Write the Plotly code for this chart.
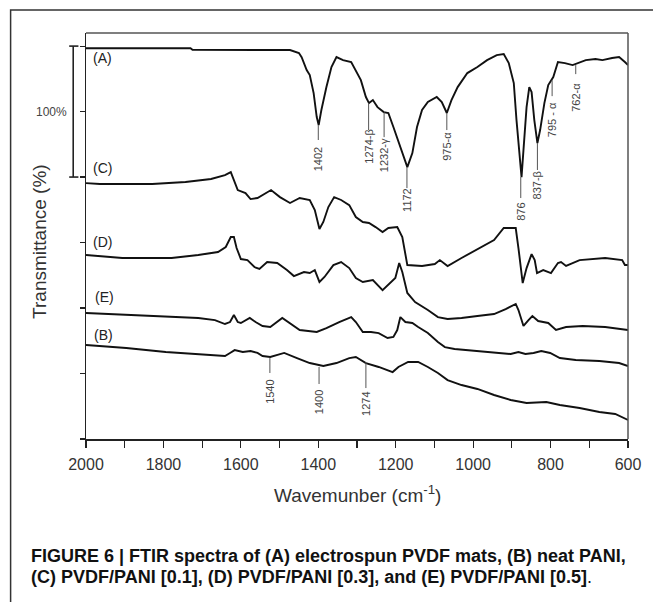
import plotly.graph_objects as go

# ---------------- data (wavenumber in cm^-1, transmittance in %, offset traces) -------------
A_wn = [2000, 1730, 1725, 1473, 1450, 1443, 1430, 1422, 1412, 1404, 1399, 1392, 1379, 1366, 1353,
        1336, 1315, 1303, 1290, 1277, 1269, 1259, 1247, 1231, 1219, 1206, 1188, 1170, 1157, 1145,
        1132, 1117, 1094, 1081, 1068, 1056, 1040, 1015, 989, 964, 939, 921, 908, 895, 888, 880,
        875, 870, 862, 855, 849, 842, 834, 827, 816, 806, 793, 781, 763, 743, 730, 709, 684, 666,
        641, 623, 608, 600]
A_T = [298.3, 298.3, 297.2, 297.0, 294.7, 291.6, 281.7, 277.9, 264.1, 245.8, 239.7, 251.2, 268.7,
       284.0, 291.6, 289.3, 287.8, 281.7, 274.0, 261.1, 256.5, 258.8, 253.4, 249.6, 248.9, 238.2,
       222.9, 207.6, 218.3, 238.2, 251.2, 257.3, 261.1, 257.3, 248.9, 258.8, 268.7, 279.4, 284.0,
       289.3, 293.1, 293.9, 287.0, 271.8, 243.5, 215.3, 200.0, 220.6, 253.4, 268.7, 264.9, 243.5,
       226.0, 235.9, 256.5, 270.3, 276.4, 287.8, 287.0, 285.5, 287.0, 289.3, 290.1, 289.3, 290.9,
       291.6, 287.8, 285.5]

C_wn = [2000, 1964, 1829, 1743, 1677, 1641, 1626, 1618, 1608, 1588, 1575, 1557, 1522, 1499, 1473,
        1448, 1422, 1409, 1397, 1387, 1374, 1359, 1341, 1320, 1303, 1285, 1269, 1252, 1234, 1219,
        1196, 1183, 1170, 1132, 1099, 1086, 1066, 1030, 989, 946, 921, 890, 883, 872, 862, 849,
        841, 835, 819, 799, 781, 773, 760, 725, 659, 615, 608, 600]
C_T = [195.4, 194.7, 194.7, 196.2, 198.5, 201.5, 203.8, 197.7, 190.1, 187.8, 183.2, 184.0, 190.1,
       184.7, 180.2, 184.0, 182.5, 174.8, 160.3, 165.7, 177.1, 184.7, 182.5, 178.6, 169.5, 165.7,
       164.9, 161.8, 158.0, 161.1, 161.8, 154.2, 132.8, 132.1, 133.6, 136.6, 132.1, 138.2, 145.0,
       151.9, 161.1, 161.1, 145.8, 119.1, 130.5, 141.2, 136.6, 126.7, 129.0, 126.7, 134.4, 135.1,
       132.1, 136.6, 138.2, 136.6, 132.8, 132.8]

D_wn = [2000, 1906, 1779, 1710, 1659, 1639, 1626, 1618, 1611, 1600, 1583, 1565, 1552, 1532, 1506,
        1481, 1463, 1437, 1422, 1409, 1397, 1384, 1361, 1341, 1320, 1303, 1285, 1259, 1234, 1219,
        1201, 1191, 1183, 1170, 1150, 1117, 1091, 1066, 1030, 989, 946, 916, 890, 883, 870, 857,
        847, 832, 806, 786, 760, 717, 659, 600]
D_T = [140.5, 138.2, 138.2, 140.5, 142.8, 146.6, 154.2, 154.2, 145.8, 137.4, 136.6, 131.3, 129.8,
       135.1, 134.4, 129.0, 124.4, 127.5, 126.7, 129.0, 119.9, 123.7, 132.8, 135.1, 130.5, 122.9,
       119.9, 121.4, 113.7, 117.6, 122.9, 134.4, 127.5, 111.5, 104.6, 98.5, 93.1, 91.6, 92.4, 93.9,
       95.4, 99.2, 103.1, 98.5, 86.3, 90.8, 93.9, 90.1, 88.6, 83.2, 85.5, 86.3, 85.5, 83.2]

E_wn = [2000, 1896, 1794, 1710, 1667, 1641, 1628, 1618, 1608, 1600, 1577, 1562, 1544, 1524, 1493,
        1473, 1448, 1404, 1379, 1346, 1315, 1303, 1285, 1264, 1244, 1221, 1206, 1196, 1188, 1175,
        1157, 1142, 1117, 1091, 1073, 1048, 997, 946, 903, 883, 865, 844, 824, 801, 776, 735, 674,
        623, 600]
E_T = [96.2, 94.7, 93.1, 92.4, 90.8, 87.8, 89.3, 94.7, 89.3, 88.6, 92.4, 89.3, 86.3, 85.5, 92.4,
       88.6, 83.2, 81.7, 84.7, 89.3, 93.1, 89.3, 81.7, 81.7, 80.9, 77.1, 77.9, 83.2, 93.1, 89.3,
       88.6, 85.5, 80.9, 74.0, 70.2, 68.7, 67.2, 65.7, 64.9, 66.4, 64.9, 65.7, 67.2, 65.7, 61.8,
       60.3, 59.5, 58.0, 55.7]

B_wn = [2000, 1896, 1794, 1710, 1641, 1628, 1616, 1595, 1575, 1557, 1544, 1524, 1488, 1455, 1422,
        1387, 1353, 1320, 1303, 1277, 1244, 1208, 1193, 1168, 1142, 1117, 1091, 1066, 1030, 989,
        946, 903, 862, 811, 776, 725, 674, 633, 600]
B_T = [71.8, 69.5, 66.4, 64.9, 63.4, 65.7, 67.9, 66.4, 67.2, 65.7, 63.4, 62.6, 65.7, 61.8, 58.0,
       55.7, 58.0, 61.8, 62.6, 58.0, 55.0, 51.1, 55.0, 58.8, 58.8, 55.0, 50.4, 45.0, 41.2, 38.2,
       33.6, 29.8, 27.5, 28.2, 26.0, 23.7, 20.6, 19.1, 14.5]

series_names = ["(A)", "(C)", "(D)", "(E)", "(B)"]
series_wn = [A_wn, C_wn, D_wn, E_wn, B_wn]
series_T = [A_T, C_T, D_T, E_T, B_T]

# curve tags: wavenumber / transmittance of each tag
tag_wn = [1958, 1958, 1957, 1952, 1955]
tag_T = [290.9, 206.9, 150.4, 108.4, 79.4]

# peak assignments
pk_text = ["1402", "1274-β", "1232-γ", "1172", "975-α", "876", "837-β", "795 - α", "762-α",
           "1540", "1400", "1274"]
pk_wn = [1400, 1270, 1230, 1171, 1068, 877, 834, 796, 735, 1525, 1398, 1277]
pk_top = [239.7, 256.5, 249.6, 207.6, 248.9, 200.0, 226.0, 274.0, 285.5, 61.8, 55.0, 58.8]
pk_bot = [228.3, 235.9, 230.5, 191.6, 235.9, 184.0, 205.4, 261.8, 278.6, 50.4, 42.0, 38.9]
pk_mid = [213.8, 222.9, 216.8, 182.5, 223.7, 173.3, 193.9, 243.5, 261.1, 35.9, 28.2, 26.7]

x_ticks = [2000, 1800, 1600, 1400, 1200, 1000, 800, 600]
y_ticks = [0, 50, 100, 150, 200, 250, 300]

FONT = "Liberation Sans, Arial, Helvetica, sans-serif"

fig = go.Figure()
for name, wn, T in zip(series_names, series_wn, series_T):
    fig.add_trace(go.Scatter(x=wn, y=T, mode="lines", name=name,
                             line=dict(color="#111111", width=1.9), showlegend=False,
                             hoverinfo="skip"))

shapes = []
annotations = []

# peak marker lines + labels
for t, w, y0, y1, ym in zip(pk_text, pk_wn, pk_top, pk_bot, pk_mid):
    shapes.append(dict(type="line", xref="x", yref="y", x0=w, x1=w, y0=y0, y1=y1,
                       line=dict(color="#555555", width=1)))
    annotations.append(dict(x=w, y=ym, xref="x", yref="y", text=t, showarrow=False,
                            textangle=-90, xanchor="center", yanchor="middle",
                            font=dict(family=FONT, size=11, color="#444444")))

# curve tags
for n, w, y in zip(series_names, tag_wn, tag_T):
    annotations.append(dict(x=w, y=y, xref="x", yref="y", text=n, showarrow=False,
                            xanchor="center", yanchor="middle",
                            font=dict(family=FONT, size=14, color="#222222")))

# scale bar (100 %)
sb_x = -0.0236
shapes.append(dict(type="line", xref="paper", yref="y", x0=sb_x, x1=sb_x, y0=200, y1=300,
                   line=dict(color="#222222", width=1.6)))
for yy in (200, 300):
    shapes.append(dict(type="line", xref="paper", yref="y", x0=-0.031, x1=-0.014, y0=yy, y1=yy,
                       line=dict(color="#222222", width=1.6)))
annotations.append(dict(x=-0.0636, y=250, xref="paper", yref="y", text="100%", showarrow=False,
                        xanchor="center", yanchor="middle",
                        font=dict(family=FONT, size=12, color="#444444")))

# top & right frame of plot box
shapes.append(dict(type="line", xref="paper", yref="paper", x0=0, x1=1, y0=1, y1=1,
                   line=dict(color="#555555", width=1.5)))
shapes.append(dict(type="line", xref="paper", yref="paper", x0=1, x1=1, y0=0, y1=1,
                   line=dict(color="#555555", width=1.5)))
# outer figure frame
shapes.append(dict(type="rect", xref="paper", yref="paper", x0=-0.1391, x1=1.06, y0=-0.43,
                   y1=1.0567, line=dict(color="#333333", width=1.5)))

# axis titles
annotations.append(dict(x=-0.0855, y=151, xref="paper", yref="y", text="Transmittance (%)",
                        showarrow=False, textangle=-90, xanchor="center", yanchor="middle",
                        font=dict(family=FONT, size=19, color="#333333")))
annotations.append(dict(x=0.5, y=-0.1355, xref="paper", yref="paper",
                        text="Wavemunber (cm<sup>-1</sup>)", showarrow=False,
                        xanchor="center", yanchor="middle",
                        font=dict(family=FONT, size=19, color="#333333")))

# caption
annotations.append(dict(x=-0.1055, y=-0.288, xref="paper", yref="paper",
                        text="<b>FIGURE 6 | FTIR spectra of (A) electrospun PVDF mats, (B) neat PANI,</b>",
                        showarrow=False, xanchor="left", yanchor="middle",
                        font=dict(family=FONT, size=18, color="#111111")))
annotations.append(dict(x=-0.1055, y=-0.340, xref="paper", yref="paper",
                        text="<b>(C) PVDF/PANI [0.1], (D) PVDF/PANI [0.3], and (E) PVDF/PANI [0.5]</b>.",
                        showarrow=False, xanchor="left", yanchor="middle",
                        font=dict(family=FONT, size=18, color="#111111")))

fig.update_layout(
    width=653, height=602,
    margin=dict(l=86, r=17, t=33, b=163, pad=0),
    paper_bgcolor="white", plot_bgcolor="white",
    shapes=shapes, annotations=annotations,
    xaxis=dict(range=[2000, 600], tickvals=x_ticks, ticks="outside",
               ticklen=7, tickwidth=1.2, tickcolor="#222222", showline=True,
               linecolor="#222222", linewidth=1.5, showgrid=False, zeroline=False,
               ticklabelstandoff=3,
               minor=dict(dtick=100, ticks="outside", ticklen=7, tickwidth=1.2,
                          tickcolor="#222222", showgrid=False),
               tickfont=dict(family=FONT, size=16, color="#333333")),
    yaxis=dict(range=[0, 310], tickvals=y_ticks, showticklabels=False, ticks="outside",
               ticklen=5, tickwidth=1.2, tickcolor="#222222", showline=True,
               linecolor="#222222", linewidth=1.5, showgrid=False, zeroline=False),
)

# remove the default 8px page margin so the figure fills the 653x602 window exactly
fig.write_html("out.html",
               config={"displayModeBar": False, "staticPlot": True},
               post_script="document.body.style.margin='0px';document.body.style.overflow='hidden';")
